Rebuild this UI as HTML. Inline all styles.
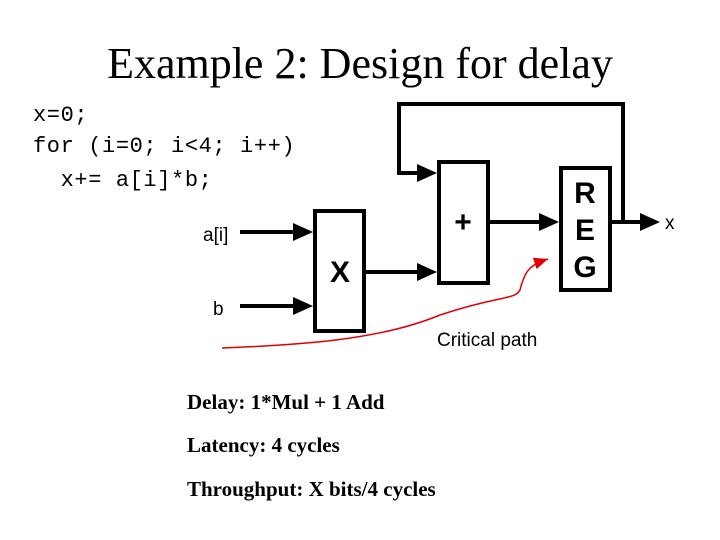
<!DOCTYPE html>
<html><head><style>
body{margin:0;width:720px;height:540px;background:#fff;position:relative;overflow:hidden}
.t{position:absolute;white-space:nowrap}
.title{font-family:"Liberation Serif",serif;font-size:44px;left:0;width:720px;text-align:center;top:38px}
.code{font-family:"Liberation Mono",monospace;font-size:22px;left:33px;letter-spacing:0.6px}
.st{font-family:"Liberation Serif",serif;font-size:21px;left:187px;font-weight:bold}
</style></head><body>
<div class="t title">Example 2: Design for delay</div>
<div class="t code" style="top:103px">x=0;</div>
<div class="t code" style="top:134px">for (i=0; i&lt;4; i++)</div>
<div class="t code" style="top:168px">&nbsp;&nbsp;x+= a[i]*b;</div>
<svg width="720" height="540" style="position:absolute;left:0;top:0" font-family="Liberation Sans,sans-serif">
<defs>
<marker id="r" markerWidth="14" markerHeight="12" refX="14" refY="6" orient="auto" markerUnits="userSpaceOnUse"><path d="M0,0L14,6L0,12z" fill="#e00000"/></marker></defs>
<g stroke="#000" stroke-width="4" fill="#fff">
<rect x="315" y="211" width="49" height="120"/>
<rect x="439" y="162" width="49" height="121"/>
<rect x="561" y="168" width="49" height="122"/>
</g>
<g stroke="#000" stroke-width="4" fill="none">
<polyline points="623,222 623,104 399,104 399,173 420,173"/>
<line x1="610" y1="222" x2="642" y2="222"/>
<line x1="488" y1="222" x2="543" y2="222"/>
<line x1="364" y1="272" x2="420" y2="272"/>
<line x1="240" y1="232" x2="296" y2="232"/>
<line x1="240" y1="306" x2="296" y2="306"/>
</g>
<g fill="#000">
<path d="M437,173L417,164L417,182z"/>
<path d="M660,222L640,213L640,231z"/>
<path d="M559,222L539,213L539,231z"/>
<path d="M437,272L417,263L417,281z"/>
<path d="M313,232L293,223L293,241z"/>
<path d="M313,306L293,297L293,315z"/>
</g>
<path d="M222,348 C300,345 380,340 440,315 C500,295 515,300 520,290 C525,270 530,265 548,259" stroke="#e00000" stroke-width="1.5" fill="none" marker-end="url(#r)"/>
<g font-weight="bold" font-size="30" text-anchor="middle">
<text x="340" y="282">X</text>
<text x="463" y="232">+</text>
<text x="585" y="203">R</text>
<text x="585" y="240">E</text>
<text x="585" y="277">G</text>
</g>
<g font-size="19">
<text x="203" y="241">a[i]</text>
<text x="213" y="315">b</text>
<text x="665" y="229">x</text>
<text x="437" y="346">Critical path</text>
</g>
</svg>
<div class="t st" style="top:390px">Delay: 1*Mul + 1 Add</div>
<div class="t st" style="top:433px">Latency: 4 cycles</div>
<div class="t st" style="top:477px">Throughput: X bits/4 cycles</div>
</body></html>
